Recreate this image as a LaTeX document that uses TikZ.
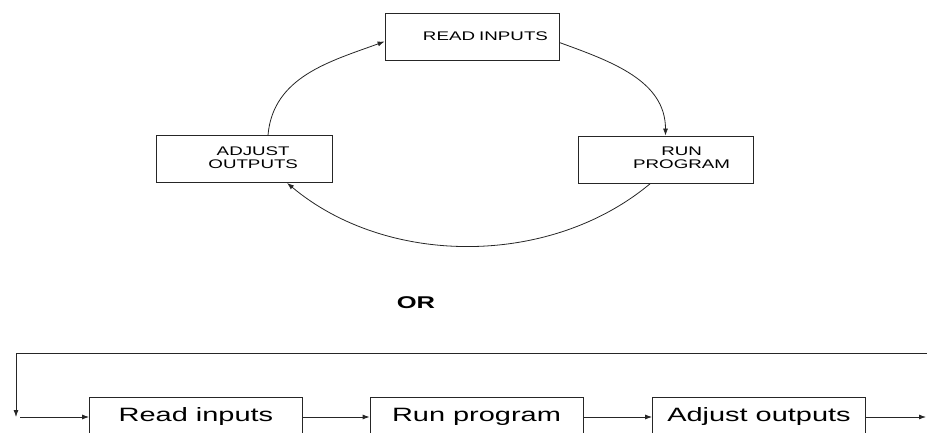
\documentclass[tikz,border=0pt]{standalone}
\usepackage{fontspec}
\usetikzlibrary{arrows.meta}
\newfontfamily\widesans[FakeStretch=1.5]{Liberation Sans}

\tikzset{
  capbox/.style={draw, minimum height=47pt, align=right, inner ysep=0pt,
    font=\widesans\fontsize{12.5}{13}\selectfont},
  rowbox/.style={draw, minimum height=40pt, minimum width=213pt, inner sep=0pt,
    font=\widesans\fontsize{19.3}{22}\selectfont},
}

\begin{document}
\begin{tikzpicture}[x=1pt,y=1pt,>={Latex[length=7pt,width=5pt]},line width=0.8pt,draw=black!85]
  \path[use as bounding box, clip] (0,0) rectangle (927,432);
  \node[capbox, text width=152pt, inner xsep=11pt] (read) at (472,395.5) {READ INPUTS};
  \node[capbox, text width=108pt, inner xsep=34pt] (adjust) at (244,273) {\begin{tabular}{@{}c@{}}ADJUST\\OUTPUTS\end{tabular}};
  \node[capbox, text width=129pt, inner xsep=23pt] (run) at (665.5,272.5) {\begin{tabular}{@{}c@{}}RUN\\PROGRAM\end{tabular}};
  \draw[->] ([xshift=24pt]adjust.north) to[out=85,in=200] ([yshift=-5pt]read.west);
  \draw[->] ([yshift=-6pt]read.east) to[out=-20,in=90] (run.north);
  \draw[->] ([xshift=-15pt]run.south) to[out=220,in=-40,looseness=0.92] ([xshift=43pt]adjust.south);
  \node[font=\widesans\bfseries\fontsize{17}{20}\selectfont] (orword) at (416,129) {OR};
  \node[rowbox] (readb) at (196,15) {Read inputs};
  \node[rowbox] (runb) at (476.5,15) {Run program};
  \node[rowbox] (adjb) at (759,15) {Adjust outputs};
  \coordinate (outend) at (926,15);
  \coordinate (backin) at (940,79);
  \coordinate (backtop) at (16,79);
  \coordinate (backlow) at (16,15);
  \draw[->] (readb) -- (runb);
  \draw[->] (runb) -- (adjb);
  \draw[->] (adjb) -- (outend);
  \draw[->] (backin) -- (backtop) -- (backlow);
  \draw[->, shorten <=4pt] (backlow) -- (readb);
\end{tikzpicture}
\end{document}
